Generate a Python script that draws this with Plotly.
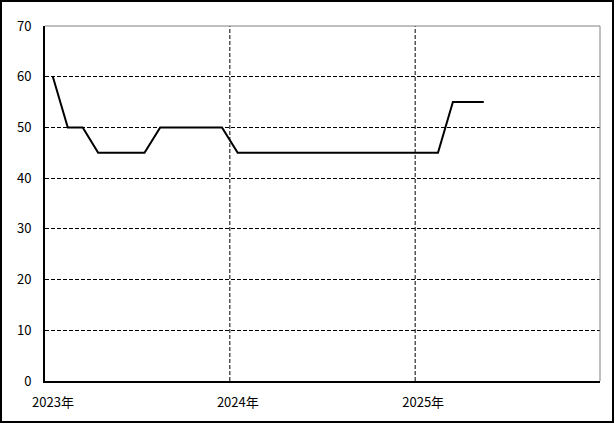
import plotly.graph_objects as go
import pandas as pd

months = ["2023-01", "2023-02", "2023-03", "2023-04", "2023-05", "2023-06",
          "2023-07", "2023-08", "2023-09", "2023-10", "2023-11", "2023-12",
          "2024-01", "2024-02", "2024-03", "2024-04", "2024-05", "2024-06",
          "2024-07", "2024-08", "2024-09", "2024-10", "2024-11", "2024-12",
          "2025-01", "2025-02", "2025-03", "2025-04", "2025-05"]
values = [60, 50, 50, 45, 45, 45, 45, 50, 50, 50, 50, 50,
          45, 45, 45, 45, 45, 45, 45, 45, 45, 45, 45, 45,
          45, 45, 55, 55, 55]
tick_dates = ["2023-01-01", "2024-01-01", "2025-01-01"]
tick_labels = ["2023年", "2024年", "2025年"]
y_ticks = [0, 10, 20, 30, 40, 50, 60, 70]

# place each monthly value at the middle of its month
x = [pd.Period(m, "M").start_time + (pd.Period(m, "M").end_time - pd.Period(m, "M").start_time) / 2
     for m in months]

FONT = "Noto Sans CJK JP, DejaVu Sans, sans-serif"
DASH = "4px,2px"

fig = go.Figure()
fig.add_trace(go.Scatter(x=x, y=values, mode="lines",
                         line=dict(color="black", width=2), showlegend=False,
                         hoverinfo="skip"))

W, H = 615, 424
L, R, T, B = 45, 15, 26, 43
pw, ph = W - L - R, H - T - B


def px_x(p):
    return (p - L) / pw


def px_y(p):
    return (H - B - p) / ph


shapes = []
# vertical dashed grid lines at year boundaries (except axis)
for d in tick_dates[1:]:
    shapes.append(dict(type="line", xref="x", yref="paper", x0=d, x1=d, y0=0, y1=1,
                       line=dict(color="black", width=1, dash=DASH), layer="below"))
# gray top/right frame
shapes.append(dict(type="line", xref="paper", yref="paper", x0=0, x1=1, y0=1, y1=1,
                   line=dict(color="#808080", width=1)))
shapes.append(dict(type="line", xref="paper", yref="paper", x0=1, x1=1, y0=0, y1=1,
                   line=dict(color="#808080", width=1)))
# outer border around the whole image
shapes.append(dict(type="rect", xref="paper", yref="paper",
                   x0=px_x(1), x1=px_x(W - 2), y0=px_y(H - 2), y1=px_y(1),
                   line=dict(color="black", width=2)))

fig.update_layout(
    width=W, height=H,
    margin=dict(l=L, r=R, t=T, b=B, autoexpand=False),
    paper_bgcolor="white", plot_bgcolor="white",
    font=dict(family=FONT, size=12, color="black"),
    shapes=shapes,
    xaxis=dict(type="date", range=["2023-01-01", "2026-01-01"],
               tickvals=tick_dates, ticktext=tick_labels,
               showgrid=False, zeroline=False, automargin=False,
               showline=True, linecolor="black", linewidth=2,
               ticks="", ticklabelstandoff=8, ticklabelshift=8,
               tickfont=dict(family=FONT, size=13)),
    yaxis=dict(range=[0, 70], tickvals=y_ticks, automargin=False,
               showgrid=True, gridcolor="black", griddash=DASH, gridwidth=1,
               zeroline=False, showline=True, linecolor="black", linewidth=2,
               ticks="", ticklabelstandoff=9,
               tickfont=dict(family=FONT, size=13)),
)

fig.write_html("out.html", config={"displayModeBar": False},
               post_script="document.body.style.margin='0';document.body.style.overflow='hidden';")
